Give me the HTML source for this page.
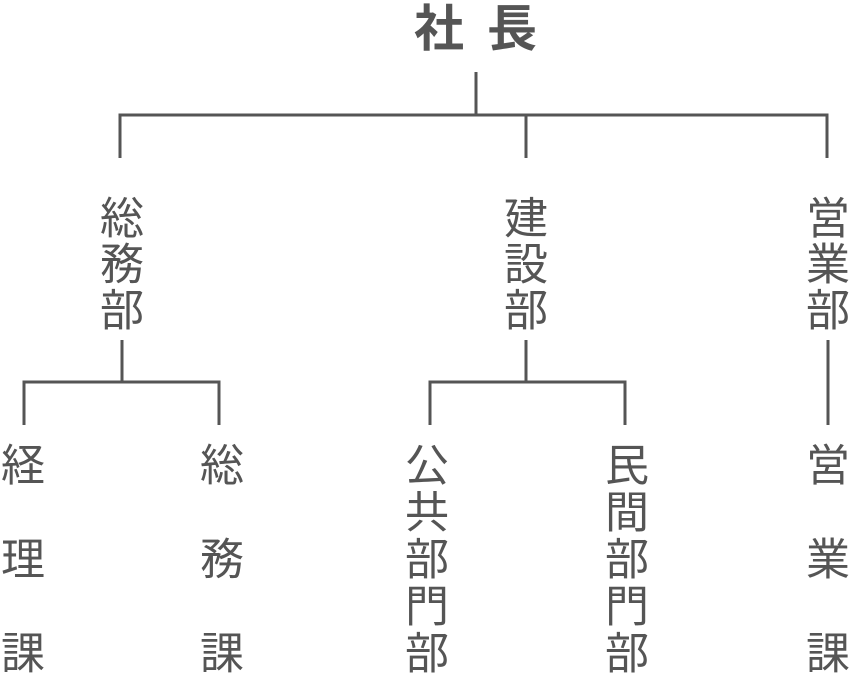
<!DOCTYPE html>
<html><head><meta charset="utf-8"><style>
html,body{margin:0;padding:0;background:#fff;}
svg{display:block;}
text{font-family:"Liberation Sans","Noto Sans CJK JP",sans-serif;fill:#555;text-anchor:middle;dominant-baseline:central;}
</style></head><body>
<svg width="852" height="675" viewBox="0 0 852 675" xmlns="http://www.w3.org/2000/svg">
<g stroke="#555" stroke-width="3" fill="none">
<path d="M476 72V115M120 158V115H827V158M526 115V158"/>
<path d="M122 340V382M24 425V382H219V425"/>
<path d="M526 340V382M430 425V382H625V425"/>
<path d="M828 340V425"/>
</g>
<text x="439" y="29" font-size="50" font-weight="bold">社</text>
<text x="512" y="29" font-size="50" font-weight="bold">長</text>
<g font-size="44">
<text x="122" y="219">総</text><text x="122" y="265">務</text><text x="122" y="311">部</text>
<text x="526" y="219">建</text><text x="526" y="265">設</text><text x="526" y="311">部</text>
<text x="828" y="219">営</text><text x="828" y="265">業</text><text x="828" y="311">部</text>
<text x="23" y="466">経</text><text x="23" y="560">理</text><text x="23" y="654">課</text>
<text x="222" y="466">総</text><text x="222" y="560">務</text><text x="222" y="654">課</text>
<text x="828" y="466">営</text><text x="828" y="560">業</text><text x="828" y="654">課</text>
<text x="427" y="466">公</text><text x="427" y="513">共</text><text x="427" y="560">部</text><text x="427" y="607">門</text><text x="427" y="654">部</text>
<text x="627" y="466">民</text><text x="627" y="513">間</text><text x="627" y="560">部</text><text x="627" y="607">門</text><text x="627" y="654">部</text>
</g>
</svg>
</body></html>
